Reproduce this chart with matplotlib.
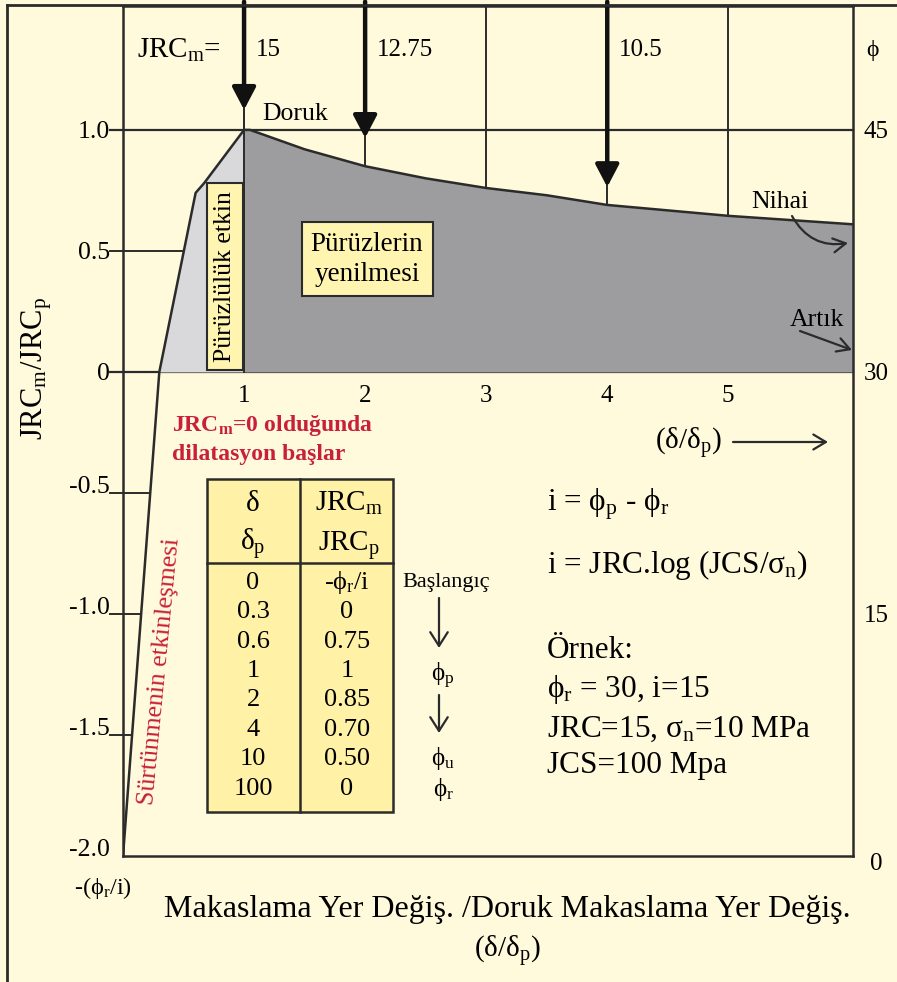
import numpy as np
import matplotlib.pyplot as plt
import matplotlib.transforms as mtransforms
from matplotlib.patches import Rectangle, FancyArrowPatch

plt.rcParams['font.family'] = ['Liberation Serif', 'DejaVu Serif']
plt.rcParams['mathtext.fontset'] = 'custom'
plt.rcParams['mathtext.rm'] = 'Liberation Serif'
plt.rcParams['mathtext.it'] = 'Liberation Serif:italic'
plt.rcParams['mathtext.bf'] = 'Liberation Serif:bold'

# egri: yukselen kisim (surtunme + puruzluluk) ve doruk sonrasi kisim
rise_x = [0.0, 0.3, 0.6, 0.67, 1.0]
rise_y = [-2.0, 0.0, 0.74, 0.78, 1.0]
fall_x = [1.0, 1.05, 1.5, 2.0, 2.5, 3.0, 3.5, 4.0, 5.0, 6.03]
fall_y = [1.0, 1.0, 0.92, 0.85, 0.80, 0.76, 0.73, 0.69, 0.645, 0.61]

# ust oklar
jrc_x = [1, 2, 4]
jrc_labels = ['15', '12.75', '10.5']
jrc_tips = [1.083, 0.967, 0.764]

x_ticks = [1, 2, 3, 4, 5]
y_ticks = [1.0, 0.5, 0.0, -0.5, -1.0, -1.5, -2.0]
y_labels = ['1.0', '0.5', '0', '-0.5', '-1.0', '-1.5', '-2.0']
phi_pos = [1.0, 0.0, -1.0, -2.0]
phi_labels = ['45', '30', '15', '0']

# tablo
tab_delta = ['0', '0.3', '0.6', '1', '2', '4', '10', '100']
tab_jrc = ['-ϕ$_\\mathrm{r}$/i', '0', '0.75', '1', '0.85', '0.70', '0.50', '0']

W, H = 897, 982
BG = '#FFFADC'
LC = '#2b2b2b'
RED = '#C8203C'

fig = plt.figure(figsize=(W / 100, H / 100), dpi=100, facecolor=BG)
tpx = mtransforms.Affine2D().scale(1 / W, -1 / H).translate(0, 1) + fig.transFigure

ax = fig.add_axes([123 / W, 1 - 856 / H, 730 / W, 850 / H])
ax.set_facecolor(BG)
ax.set_xlim(0, 6.03)
ax.set_ylim(-2, 1.512)
ax.set_xticks([])
ax.set_yticks([])
for s in ax.spines.values():
    s.set_color(LC)
    s.set_linewidth(1.8)

# dikey izgara
for xv in x_ticks:
    ax.plot([xv, xv], [0, 1.512], color=LC, lw=1.4, zorder=1)
# yatay cizgiler
for yv in [1.0, 0.0]:
    ax.plot([-0.11, 6.03], [yv, yv], color=LC, lw=1.6, zorder=1, clip_on=False)
for yv in [0.5, -0.5, -1.0, -1.5]:
    xc = np.interp(yv, rise_y, rise_x)
    ax.plot([-0.11, xc], [yv, yv], color=LC, lw=1.4, zorder=4, clip_on=False)

# dolgu
fx = np.array(rise_x[1:])
fy = np.array(rise_y[1:])
ax.fill_between(fx, 0, fy, color='#D9D9DB', zorder=2, lw=0)
ax.fill_between(fall_x, 0, fall_y, color='#9D9D9F', zorder=2, lw=0)
ax.plot(rise_x + fall_x[1:], rise_y + fall_y[1:], color=LC, lw=1.8, zorder=5)
ax.plot([1, 1], [0, 1.512], color=LC, lw=1.4, zorder=3)

# oklar
for xv, tip in zip(jrc_x, jrc_tips):
    ax.annotate('', xy=(xv, tip), xytext=(xv, 1.53),
                arrowprops=dict(arrowstyle='-|>,head_length=0.8,head_width=0.42',
                                lw=3.2, color='#111111', shrinkA=0, shrinkB=0,
                                mutation_scale=17),
                zorder=6, annotation_clip=False)


def ptext(x, y, s, size, **kw):
    kw.setdefault('ha', 'center')
    fig.text(x, y + 0.33 * size * 100 / 72, s, fontsize=size, va='baseline',
             transform=tpx, **kw)


def parrow(p0, p1, style, **kw):
    fig.patches.append(FancyArrowPatch(p0, p1, transform=tpx, arrowstyle=style,
                                       mutation_scale=18, lw=1.6, color=LC,
                                       shrinkA=0, shrinkB=0, **kw))


ptext(137, 48, 'JRC$_\\mathrm{m}$=', 21, ha='left')
for xv, lab in zip(jrc_x, jrc_labels):
    px = 123 + xv * 121
    ptext(px + 12, 48, lab, 18, ha='left')
ptext(872, 48, 'ϕ', 17)
ptext(262, 112, 'Doruk', 18.5, ha='left')

# eksen etiketleri
for yv, lab in zip(y_ticks, y_labels):
    py = 856 - (yv + 2) * 242
    if yv < 0:
        py -= 8
    ptext(110, py, lab, 18.5, ha='right')
for xv in x_ticks:
    ptext(123 + xv * 121, 394, str(xv), 18)
for yv, lab in zip(phi_pos, phi_labels):
    py = 856 - (yv + 2) * 242
    ptext(876, py + (6 if yv == -2 else 0), lab, 18)

fig.text(37, 368, 'JRC$_\\mathrm{m}$/JRC$_\\mathrm{p}$', fontsize=22, rotation=90,
         ha='center', va='center', transform=tpx)

# kutular
fig.patches.append(Rectangle((207, 183), 36, 187, transform=tpx, facecolor='#FFF4B0',
                             edgecolor=LC, lw=1.5, zorder=7))
fig.text(225, 277, 'Pürüzlülük etkin', fontsize=18.5, rotation=90, ha='center',
         va='center', transform=tpx, zorder=8)
fig.patches.append(Rectangle((302, 222), 131, 74, transform=tpx, facecolor='#FFF4B0',
                             edgecolor=LC, lw=1.5, zorder=7))
ptext(367, 242, 'Pürüzlerin', 19.5, zorder=8)
ptext(367, 272, 'yenilmesi', 19.5, zorder=8)

# Nihai / Artik
ptext(780, 200, 'Nihai', 18.5)
ptext(817, 318, 'Artık', 18.5)
parrow((792, 216), (848, 243), '->,head_length=0.5,head_width=0.28',
       connectionstyle='arc3,rad=0.35')
parrow((800, 331), (852, 350), '->,head_length=0.5,head_width=0.28')

# kirmizi yazilar
ptext(172, 423, 'JRC$_\\mathbf{m}$=0 olduğunda', 17, ha='left', color=RED, fontweight='bold')
ptext(172, 452, 'dilatasyon başlar', 17, ha='left', color=RED, fontweight='bold')
fig.text(160, 672, 'Sürtünmenin etkinleşmesi', fontsize=18.5, rotation=84.5, ha='center',
         va='center', transform=tpx, color=RED)

# (delta/delta_p) oku
ptext(688, 440, '(δ/δ$_\\mathrm{p}$)', 21)
parrow((733, 442), (828, 442), '->,head_length=0.5,head_width=0.3')

# tablo
fig.patches.append(Rectangle((207, 479), 186, 333, transform=tpx, facecolor='#FFF1A6',
                             edgecolor=LC, lw=1.8))
fig.lines.append(plt.Line2D([300, 300], [479, 812], transform=tpx, color=LC, lw=1.8))
fig.lines.append(plt.Line2D([207, 393], [563, 563], transform=tpx, color=LC, lw=1.8))
ptext(253, 501, 'δ', 21)
ptext(253, 541, 'δ$_\\mathrm{p}$', 21)
ptext(349, 501, 'JRC$_\\mathrm{m}$', 21)
ptext(349, 541, 'JRC$_\\mathrm{p}$', 21)
for k, (a, b) in enumerate(zip(tab_delta, tab_jrc)):
    yy = 580 + k * 29.4
    ptext(253, yy, a, 19)
    ptext(347, yy, b, 19)

# Baslangic sutunu
ptext(446, 580, 'Başlangıç', 16)
for y0, y1 in [(598, 648), (695, 733)]:
    parrow((439, y0), (439, y1), '->,head_length=0.55,head_width=0.35')
ptext(443, 673, 'ϕ$_\\mathrm{p}$', 18)
ptext(443, 757, 'ϕ$_\\mathrm{u}$', 18)
ptext(443, 788, 'ϕ$_\\mathrm{r}$', 18)

# formuller
ptext(547, 500, 'i = ϕ$_\\mathrm{p}$ - ϕ$_\\mathrm{r}$', 22.5, ha='left')
ptext(547, 563, 'i = JRC.log (JCS/σ$_\\mathrm{n}$)', 22.5, ha='left')
ptext(547, 648, 'Örnek:', 22.5, ha='left')
ptext(547, 687, 'ϕ$_\\mathrm{r}$ = 30, i=15', 22.5, ha='left')
ptext(547, 727, 'JRC=15, σ$_\\mathrm{n}$=10 MPa', 22.5, ha='left')
ptext(547, 763, 'JCS=100 Mpa', 22.5, ha='left')

# alt yazilar
ptext(103, 886, '-(ϕ$_\\mathrm{r}$/i)', 17.5)
ptext(507, 906, 'Makaslama Yer Değiş. /Doruk Makaslama Yer Değiş.', 23)
ptext(507, 948, '(δ/δ$_\\mathrm{p}$)', 21)

# cerceve
fig.lines.append(plt.Line2D([7, 7], [5, 982], transform=tpx, color=LC, lw=2))
fig.lines.append(plt.Line2D([7, 897], [5, 5], transform=tpx, color=LC, lw=2))

fig.savefig('out.png', dpi=100, facecolor=BG)
